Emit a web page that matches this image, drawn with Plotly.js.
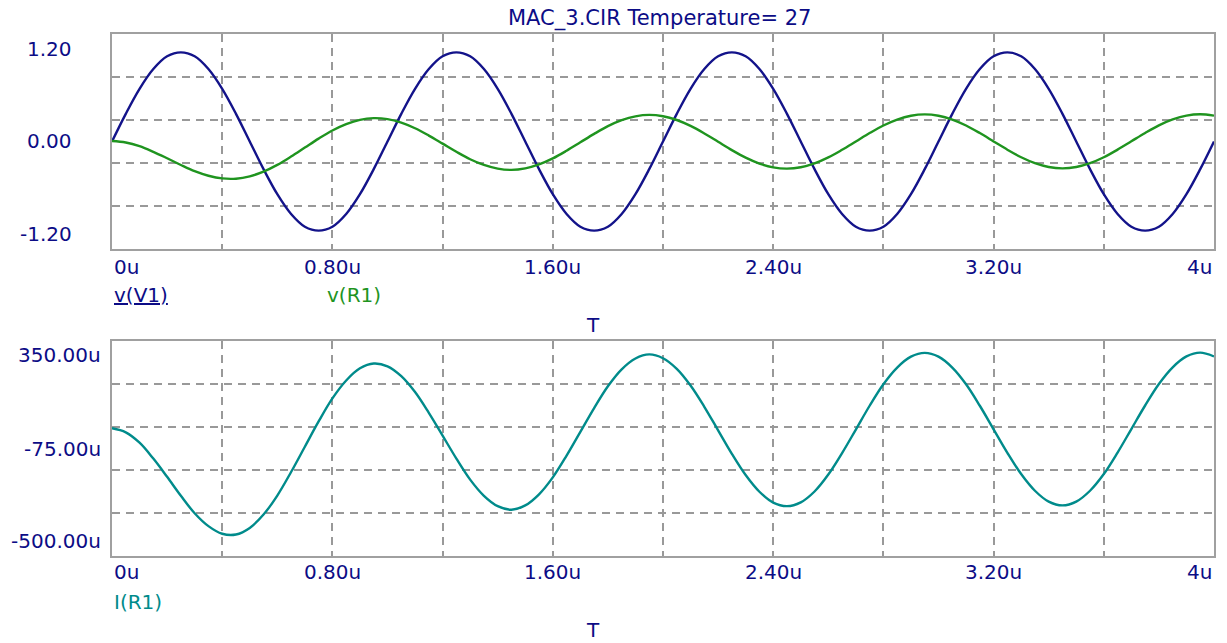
<!DOCTYPE html>
<html>
<head>
<meta charset="utf-8">
<script src="https://cdn.plot.ly/plotly-3.0.1.min.js"></script>
<style>
  html, body { margin: 0; padding: 0; background: #ffffff; }
  #chart { width: 1227px; height: 643px; }
</style>
</head>
<body>
<div id="chart"></div>
<script>
// ---- data (time in microseconds) ----
const timeUs = [0.00, 0.05, 0.10, 0.15, 0.20, 0.25, 0.30, 0.35, 0.40, 0.45,
                0.50, 0.55, 0.60, 0.65, 0.70, 0.75, 0.80, 0.85, 0.90, 0.95,
                1.00, 1.05, 1.10, 1.15, 1.20, 1.25, 1.30, 1.35, 1.40, 1.45,
                1.50, 1.55, 1.60, 1.65, 1.70, 1.75, 1.80, 1.85, 1.90, 1.95,
                2.00, 2.05, 2.10, 2.15, 2.20, 2.25, 2.30, 2.35, 2.40, 2.45,
                2.50, 2.55, 2.60, 2.65, 2.70, 2.75, 2.80, 2.85, 2.90, 2.95,
                3.00, 3.05, 3.10, 3.15, 3.20, 3.25, 3.30, 3.35, 3.40, 3.45,
                3.50, 3.55, 3.60, 3.65, 3.70, 3.75, 3.80, 3.85, 3.90, 3.95, 4.00];

// v(V1) in volts
const vV1 = [0.000, 0.309, 0.588, 0.809, 0.951, 0.995, 0.951, 0.809, 0.588, 0.309,
             0.000, -0.309, -0.588, -0.809, -0.951, -0.995, -0.951, -0.809, -0.588, -0.309,
             0.000, 0.309, 0.588, 0.809, 0.951, 0.995, 0.951, 0.809, 0.588, 0.309,
             0.000, -0.309, -0.588, -0.809, -0.951, -0.995, -0.951, -0.809, -0.588, -0.309,
             0.000, 0.309, 0.588, 0.809, 0.951, 0.995, 0.951, 0.809, 0.588, 0.309,
             0.000, -0.309, -0.588, -0.809, -0.951, -0.995, -0.951, -0.809, -0.588, -0.309,
             0.000, 0.309, 0.588, 0.809, 0.951, 0.995, 0.951, 0.809, 0.588, 0.309,
             0.000, -0.309, -0.588, -0.809, -0.951, -0.995, -0.951, -0.809, -0.588, -0.309, 0.000];

// v(R1) in volts
const vR1 = [0.005, -0.011, -0.052, -0.115, -0.187, -0.262, -0.331, -0.382, -0.412, -0.415,
             -0.389, -0.336, -0.261, -0.168, -0.068, 0.032, 0.123, 0.194, 0.242, 0.261,
             0.250, 0.211, 0.148, 0.066, -0.024, -0.115, -0.198, -0.262, -0.303, -0.317,
             -0.300, -0.256, -0.189, -0.103, -0.009, 0.085, 0.171, 0.238, 0.281, 0.297,
             0.282, 0.240, 0.174, 0.090, -0.003, -0.096, -0.180, -0.246, -0.289, -0.303,
             -0.288, -0.245, -0.178, -0.093, 0.000, 0.094, 0.179, 0.245, 0.288, 0.303,
             0.288, 0.245, 0.179, 0.094, 0.001, -0.092, -0.176, -0.242, -0.285, -0.300,
             -0.285, -0.242, -0.176, -0.091, 0.002, 0.095, 0.180, 0.246, 0.289, 0.304, 0.289];

// I(R1) in microamps
const iR1 = [5, -11, -52, -115, -187, -262, -331, -382, -412, -415,
             -389, -336, -261, -168, -68, 32, 123, 194, 242, 261,
             250, 211, 148, 66, -24, -115, -198, -262, -303, -317,
             -300, -256, -189, -103, -9, 85, 171, 238, 281, 297,
             282, 240, 174, 90, -3, -96, -180, -246, -289, -303,
             -288, -245, -178, -93, 0, 94, 179, 245, 288, 303,
             288, 245, 179, 94, 1, -92, -176, -242, -285, -300,
             -285, -242, -176, -91, 2, 95, 180, 246, 289, 304, 289];

// tick labels
const xTickVals = [0, 0.8, 1.6, 2.4, 3.2, 4];
const xTickText = ['0u', '0.80u', '1.60u', '2.40u', '3.20u', '4u'];
const yTopTickVals = [1.2, 0, -1.2];
const yTopTickText = ['1.20', '0.00', '-1.20'];
const yBotTickVals = [350, -75, -500];
const yBotTickText = ['350.00u', '-75.00u', '-500.00u'];

const titleText = 'MAC_3.CIR Temperature= 27';
const seriesNames = ['v(V1)', 'v(R1)', 'I(R1)'];

// ---- styling ----
const W = 1227, H = 643;
const NAVY = '#0c0c86';
const BLUE = '#13138a';
const GREEN = '#1f941f';
const TEAL = '#008b8b';
const GRID = '#999999';
const FONT = 'DejaVu Sans, Verdana, sans-serif';
const FS = 20;
const LW = 2.4;

const px = x => x / W;
const py = y => 1 - y / H;

const xDom = [px(112), px(1214)];
const yTopDom = [py(249), py(34)];
const yBotDom = [py(556), py(341)];

function xAxis(anchor) {
  return {
    domain: xDom, anchor: anchor, range: [0, 4],
    tick0: 0, dtick: 0.4, showticklabels: false, ticks: '',
    showgrid: true, gridcolor: GRID, gridwidth: 2, griddash: '8px,6px',
    showline: true, mirror: true, linecolor: '#a0a0a0', linewidth: 2,
    zeroline: false, fixedrange: true
  };
}
function yAxis(anchor, dom, range, tick0, dtick) {
  return {
    domain: dom, anchor: anchor, range: range,
    tick0: tick0, dtick: dtick, showticklabels: false, ticks: '',
    showgrid: true, gridcolor: GRID, gridwidth: 2, griddash: '8px,6px',
    showline: true, mirror: true, linecolor: '#a0a0a0', linewidth: 2,
    zeroline: false, fixedrange: true
  };
}

const traces = [
  { x: timeUs, y: vV1, xaxis: 'x', yaxis: 'y', mode: 'lines', name: seriesNames[0],
    line: { color: BLUE, width: LW, shape: 'spline' }, hoverinfo: 'skip' },
  { x: timeUs, y: vR1, xaxis: 'x', yaxis: 'y', mode: 'lines', name: seriesNames[1],
    line: { color: GREEN, width: LW, shape: 'spline' }, hoverinfo: 'skip' },
  { x: timeUs, y: iR1, xaxis: 'x2', yaxis: 'y2', mode: 'lines', name: seriesNames[2],
    line: { color: TEAL, width: LW, shape: 'spline' }, hoverinfo: 'skip' }
];

const ann = [];
function txt(text, x, y, opts) {
  ann.push(Object.assign({
    text: text, x: x, y: y, showarrow: false,
    font: { family: FONT, size: FS, color: NAVY },
    xanchor: 'center', yanchor: 'middle'
  }, opts || {}));
}

// title
txt(titleText, px(659), py(19), { xref: 'paper', yref: 'paper', font: { family: FONT, size: 21, color: NAVY } });

// x tick labels (both panels)
xTickVals.forEach((v, i) => {
  const xa = i === 0 ? 'left' : (i === xTickVals.length - 1 ? 'right' : 'center');
  txt(xTickText[i], v, py(267), { xref: 'x', yref: 'paper', xanchor: xa });
  txt(xTickText[i], v, py(572), { xref: 'x2', yref: 'paper', xanchor: xa });
});

// y tick labels (pulled inside the span as in the original)
yTopTickVals.forEach((v, i) => {
  const sh = i === 0 ? -15 : (i === yTopTickVals.length - 1 ? 15 : 0);
  txt(yTopTickText[i], px(74), v, { xref: 'paper', yref: 'y', xanchor: 'right', yshift: sh });
});
yBotTickVals.forEach((v, i) => {
  const sh = i === 0 ? -14 : (i === yBotTickVals.length - 1 ? 15 : 0);
  txt(yBotTickText[i], px(103), v, { xref: 'paper', yref: 'y2', xanchor: 'right', yshift: sh });
});

// legends / axis names
txt('<u>' + seriesNames[0] + '</u>', px(112), py(295), { xref: 'paper', yref: 'paper', xanchor: 'left' });
txt(seriesNames[1], px(325), py(295), { xref: 'paper', yref: 'paper', xanchor: 'left', font: { family: FONT, size: FS, color: GREEN } });
txt('T', px(593), py(325), { xref: 'paper', yref: 'paper' });
txt(seriesNames[2], px(112), py(602), { xref: 'paper', yref: 'paper', xanchor: 'left', font: { family: FONT, size: FS, color: TEAL } });
txt('T', px(593), py(630), { xref: 'paper', yref: 'paper' });

const layout = {
  width: W, height: H,
  margin: { l: 0, r: 0, t: 0, b: 0 },
  paper_bgcolor: '#ffffff', plot_bgcolor: '#ffffff',
  showlegend: false,
  font: { family: FONT, size: FS, color: NAVY },
  xaxis: xAxis('y'),
  yaxis: yAxis('x', yTopDom, [-1.2, 1.2], -1.2, 0.48),
  xaxis2: xAxis('y2'),
  yaxis2: yAxis('x2', yBotDom, [-500, 350], -500, 170),
  annotations: ann
};

Plotly.newPlot('chart', traces, layout, { staticPlot: true, displayModeBar: false });
</script>
</body>
</html>
